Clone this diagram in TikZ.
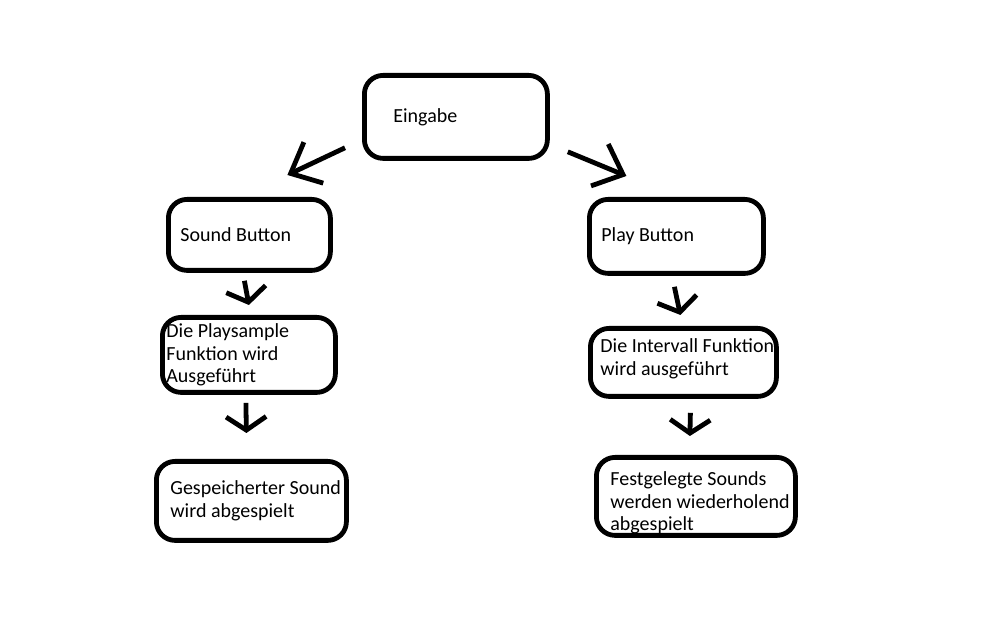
\documentclass[tikz,border=0pt]{standalone}
\usepackage{fontspec}
\setmainfont{Carlito}
\usetikzlibrary{arrows.meta, positioning}
\tikzset{
    paintbox/.style={rectangle, rounded corners=14pt, draw=black, fill=white, line width=3.6pt, inner sep=0pt, align=flush left, anchor=north west, font=\fontsize{15}{17}\selectfont},
    paintarrow/.style={-{Straight Barb[length=10pt, width=30pt, line width=3.6pt]}, draw=black, line width=3.6pt},
    bigarrow/.style={-{Straight Barb[length=19pt, width=34pt, line width=3.6pt]}, draw=black, line width=3.6pt}
}
\begin{document}
\begin{tikzpicture}[x=0.75pt, y=-0.75pt]
    \useasboundingbox (0,0) rectangle (1008,630);
    % Nodes
    \node[paintbox, minimum width=137.25pt, minimum height=62.25pt, text width=93.75pt] (eingabe) at (362,73) {Eingabe};
    \node[paintbox, minimum width=121.5pt, minimum height=53.25pt, text width=103.5pt] (sound) at (166,197) {\mbox{Sound Button}};
    \node[paintbox, minimum width=130.5pt, minimum height=55.5pt, text width=112.5pt] (play) at (587,197) {\mbox{Play Button}};
    \node[paintbox, minimum width=129.75pt, minimum height=56.25pt, text width=123.75pt] (playsample) at (160,315) {\mbox{Die Playsample}\\\mbox{Funktion wird}\\Ausgeführt};
    \node[paintbox, minimum width=139.5pt, minimum height=51pt, text width=124.5pt] (intervall) at (588,326) {\mbox{Die Intervall Funktion}\\\mbox{wird ausgeführt}\\[-9pt]\mbox{}};
    \node[paintbox, minimum width=142.5pt, minimum height=59.25pt, text width=121.5pt] (saved) at (154,459) {\mbox{Gespeicherter Sound}\\\mbox{wird abgespielt}};
    \node[paintbox, minimum width=149.25pt, minimum height=58.5pt, text width=128.25pt] (fixed) at (594,455) {\mbox{}\\[3pt]\mbox{Festgelegte Sounds}\\\mbox{werden wiederholend}\\abgespielt};

    % Paths
    \draw[bigarrow] ([shift={(-17,-13)}]eingabe.south west) -- ([shift={(38,-22)}]sound.north);
    \draw[bigarrow] ([shift={(18,-9)}]eingabe.south east) -- ([shift={(-50,-21)}]play.north);
    \draw[paintarrow] ([shift={(-5,8)}]sound.south) -- ([shift={(0,-10)}]playsample.north);
    \draw[paintarrow] ([shift={(-3,8)}]playsample.south) -- ([shift={(-5,-26)}]saved.north);
    \draw[paintarrow] ([shift={(-2,11)}]play.south) -- ([shift={(-3,-11)}]intervall.north);
    \draw[paintarrow] ([shift={(7,14)}]intervall.south) -- ([shift={(-6,-19)}]fixed.north);
\end{tikzpicture}
\end{document}
